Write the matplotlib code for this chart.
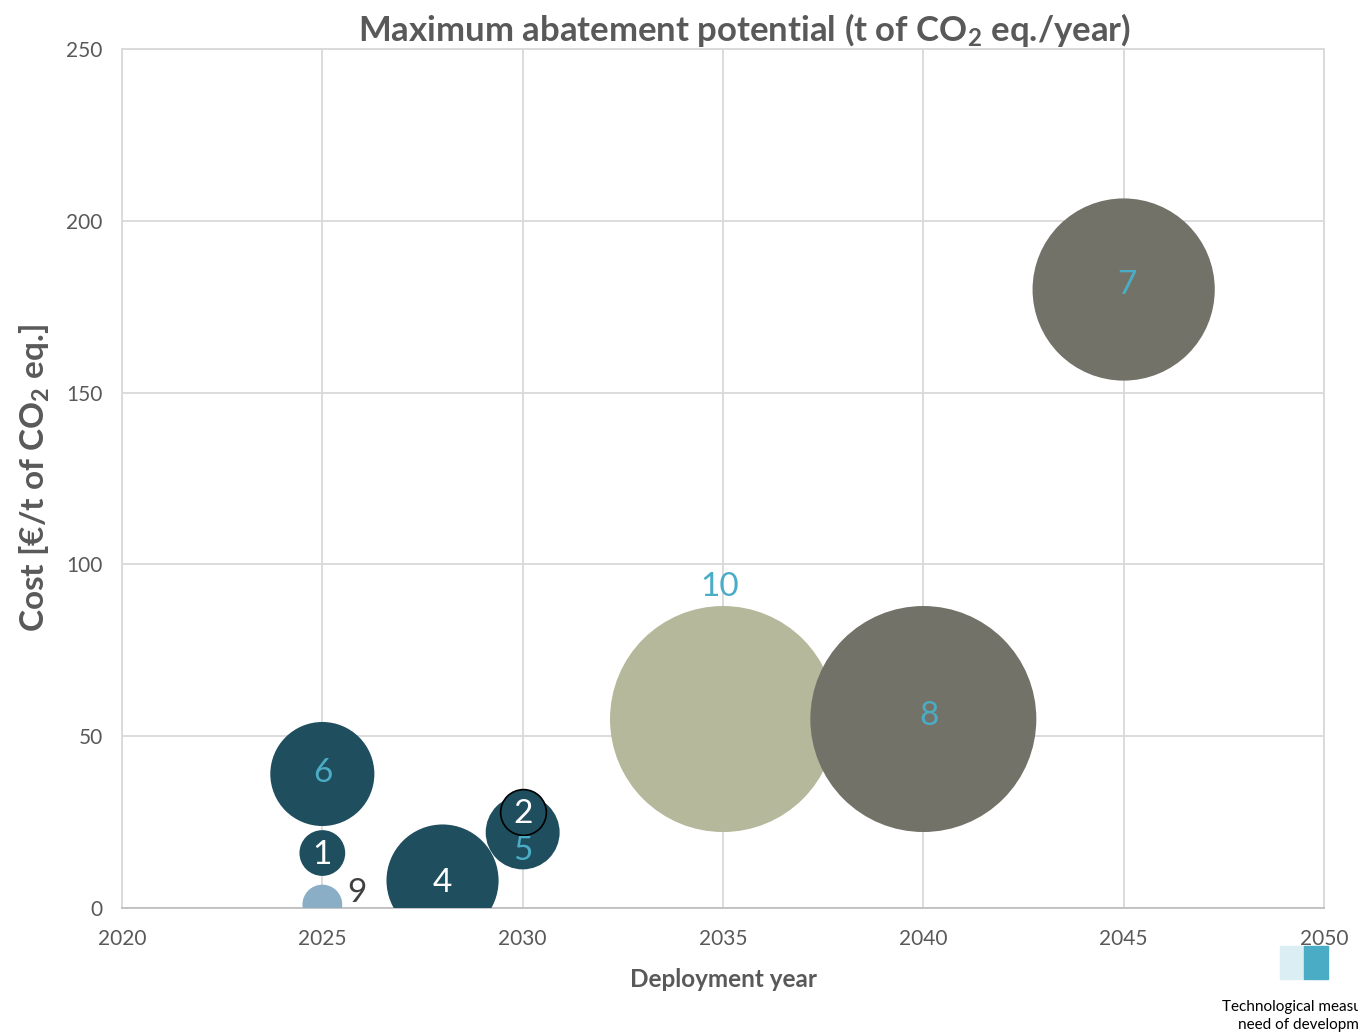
import matplotlib
matplotlib.use("Agg")
import matplotlib.pyplot as plt

plt.rcParams['font.family'] = ['Lato', 'DejaVu Sans']
plt.rcParams['mathtext.default'] = 'regular'

# ---- data ----
labels = ["1", "2", "4", "5", "6", "7", "8", "9", "10"]
years = [2025, 2030, 2028, 2030, 2025, 2045, 2040, 2025, 2035]
costs = [16, 28, 8, 22, 39, 180, 55, 1, 55]
# relative maximum abatement potential (bubble area, largest = 1)
potential = [0.041, 0.041, 0.246, 0.107, 0.212, 0.65, 1.0, 0.031, 1.0]
colors = ["#1f4e5f", "#1f4e5f", "#1f4e5f", "#1f4e5f", "#1f4e5f",
          "#737268", "#737268", "#8aaec6", "#b5b89a"]
label_colors = ["white", "white", "white", "#4bacc6", "#4bacc6",
                "#4bacc6", "#4bacc6", "#404040", "#4bacc6"]
xticks = [2020, 2025, 2030, 2035, 2040, 2045, 2050]
yticks = [0, 50, 100, 150, 200, 250]

fig = plt.figure(figsize=(13.58, 10.33), dpi=100)
ax = fig.add_axes([122/1358, 1-908/1033, (1324-122)/1358, (908-49)/1033])

max_diam_pt = 2*113*0.72
sizes = [p*max_diam_pt**2 for p in potential]

# draw in order so that small bubbles lie above big ones
order = [8, 6, 5, 4, 2, 3, 0, 7, 1]
for i in order:
    ec = 'black' if labels[i] == "2" else 'none'
    ax.scatter(years[i], costs[i], s=sizes[i], color=colors[i],
               edgecolors=ec, linewidths=1.2, zorder=3)

offsets = {"5": (0, -19), "9": (35, 12), "10": (-3, 132), "7": (3, 5),
           "8": (6, 3), "2": (0, -2), "6": (1, 1), "1": (0, -2), "4": (0, -2)}
for i, lab in enumerate(labels):
    dx, dy = offsets.get(lab, (0, 0))
    ax.annotate(lab, (years[i], costs[i]), xytext=(dx*0.72, dy*0.72),
                textcoords='offset points', ha='center', va='center',
                fontsize=24, color=label_colors[i], zorder=5,
                annotation_clip=False)

ax.set_xlim(2020, 2050)
ax.set_ylim(0, 250)
ax.set_xticks(xticks)
ax.set_yticks(yticks)
ax.grid(True, color='#d9d9d9', linewidth=1.3, zorder=0)
ax.set_axisbelow(True)
for s in ['top', 'right', 'left']:
    ax.spines[s].set_color('#d9d9d9')
    ax.spines[s].set_linewidth(1.3)
ax.spines['bottom'].set_color('#bfbfbf')
ax.spines['bottom'].set_linewidth(1.3)
ax.tick_params(length=0, labelsize=15, colors='#595959')
ax.tick_params(axis='x', pad=15)
ax.tick_params(axis='y', pad=14)

ax.set_title(r'Maximum abatement potential (t of CO$_2$ eq./year)',
             fontsize=25, fontweight='bold', color='#595959', pad=3)
ax.title.set_x((745-122)/1202)
ax.set_xlabel('Deployment year', fontsize=17.5, fontweight='bold',
              color='#595959', labelpad=14)
ax.set_ylabel(r'Cost [€/t of CO$_2$ eq.]', fontsize=24, fontweight='bold',
              color='#595959', labelpad=10)

# legend squares bottom right
fig.patches.append(plt.Rectangle((1280/1358, 1-979/1033), 24/1358, 33/1033,
                                 transform=fig.transFigure, color='#dbeef3'))
fig.patches.append(plt.Rectangle((1304/1358, 1-979/1033), 24/1358, 33/1033,
                                 transform=fig.transFigure, color='#4bacc6'))
fig.text(1222/1358, 1-1007/1033, 'Technological measures in', fontsize=11,
         color='black', ha='left', va='center')
fig.text(1238/1358, 1-1025/1033, 'need of development', fontsize=11,
         color='black', ha='left', va='center')

fig.savefig('out.png', dpi=100)
